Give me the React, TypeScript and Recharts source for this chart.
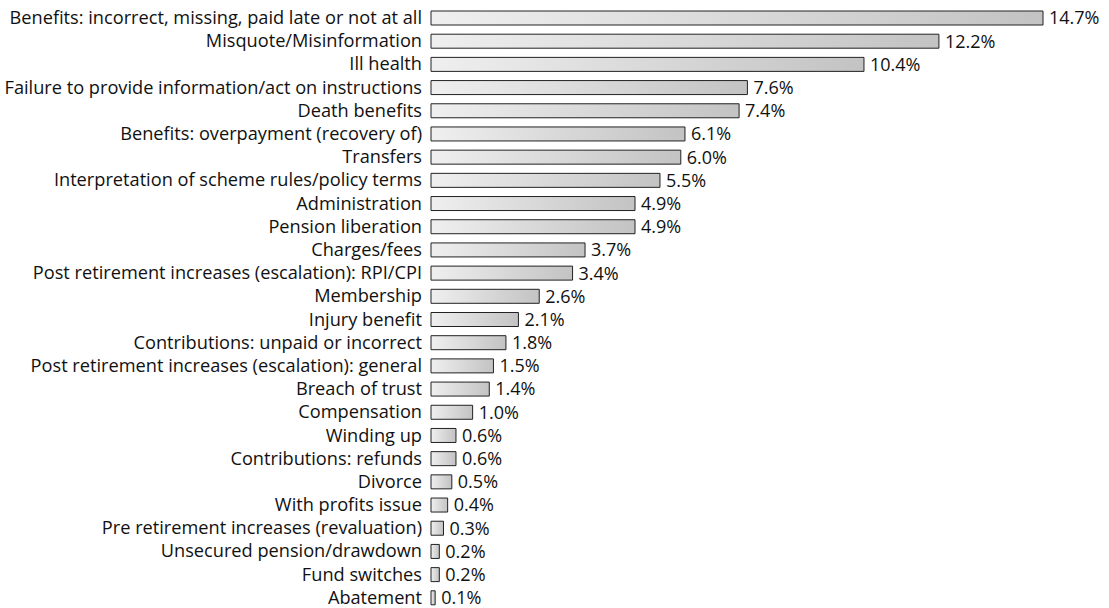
import React from "react";
import { BarChart, Bar, XAxis, YAxis, LabelList } from "recharts";

const categories = [
  "Benefits: incorrect, missing, paid late or not at all",
  "Misquote/Misinformation",
  "Ill health",
  "Failure to provide information/act on instructions",
  "Death benefits",
  "Benefits: overpayment (recovery of)",
  "Transfers",
  "Interpretation of scheme rules/policy terms",
  "Administration",
  "Pension liberation",
  "Charges/fees",
  "Post retirement increases (escalation): RPI/CPI",
  "Membership",
  "Injury benefit",
  "Contributions: unpaid or incorrect",
  "Post retirement increases (escalation): general",
  "Breach of trust",
  "Compensation",
  "Winding up",
  "Contributions: refunds",
  "Divorce",
  "With profits issue",
  "Pre retirement increases (revaluation)",
  "Unsecured pension/drawdown",
  "Fund switches",
  "Abatement",
];

const shares = [
  14.7, 12.2, 10.4, 7.6, 7.4, 6.1, 6.0, 5.5, 4.9, 4.9, 3.7, 3.4, 2.6, 2.1, 1.8,
  1.5, 1.4, 1.0, 0.6, 0.6, 0.5, 0.4, 0.3, 0.2, 0.2, 0.1,
];

const data = categories.map((name, i) => ({ name, value: shares[i] }));

const FONT = "'Open Sans', 'Noto Sans', sans-serif";

export default function App() {
  return (
    <div style={{ position: "absolute", left: 0, top: 0, width: 1109, height: 608, overflow: "hidden", background: "#fff" }}>
      <BarChart
        width={1109}
        height={612}
        data={data}
        layout="vertical"
        margin={{ top: 6, right: 66, bottom: 3, left: 0 }}
        barSize={14}
      >
        <defs>
          <linearGradient id="barFill" x1="0" y1="0" x2="1" y2="0">
            <stop offset="0%" stopColor="#efefef" />
            <stop offset="100%" stopColor="#c3c3c3" />
          </linearGradient>
        </defs>
        <XAxis type="number" domain={[0, 14.7]} hide />
        <YAxis
          type="category"
          dataKey="name"
          width={431}
          axisLine={false}
          tickLine={false}
          tickMargin={3}
          interval={0}
          tick={{ fill: "#111", fontSize: 18.2, fontFamily: FONT }}
        />
        <Bar
          dataKey="value"
          fill="url(#barFill)"
          stroke="#222"
          strokeWidth={1}
          isAnimationActive={false}
        >
          <LabelList
            dataKey="value"
            position="right"
            offset={6}
            formatter={(v: number) => `${v.toFixed(1)}%`}
            style={{ fill: "#111", fontSize: 18, fontFamily: FONT }}
          />
        </Bar>
      </BarChart>
    </div>
  );
}
